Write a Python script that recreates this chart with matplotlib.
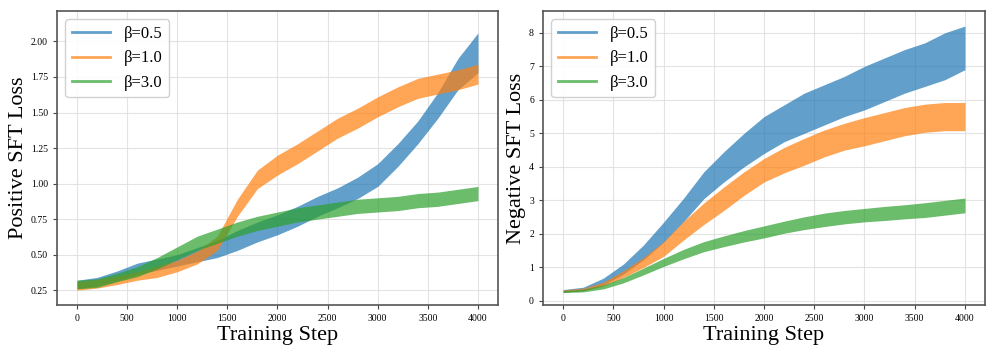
import numpy as np
import matplotlib
matplotlib.use('Agg')
import matplotlib.pyplot as plt
from matplotlib.lines import Line2D

plt.rcParams['font.family'] = ['Liberation Serif', 'DejaVu Serif']

steps = [0, 200, 400, 600, 800, 1000, 1200, 1400, 1600, 1800, 2000,
         2200, 2400, 2600, 2800, 3000, 3200, 3400, 3600, 3800, 4000]
labels = ['β=0.5', 'β=1.0', 'β=3.0']
colors = ['#1f77b4', '#ff7f0e', '#2ca02c']

# Positive SFT loss: band centre and half-width (noise spread)
pos_b05 = [0.29, 0.31, 0.35, 0.40, 0.43, 0.46, 0.50, 0.54, 0.60, 0.66, 0.71,
           0.77, 0.84, 0.90, 0.97, 1.06, 1.20, 1.36, 1.55, 1.77, 1.92]
pos_b05_hw = [0.03, 0.03, 0.035, 0.04, 0.04, 0.04, 0.05, 0.06, 0.07, 0.07, 0.07,
              0.07, 0.07, 0.07, 0.075, 0.08, 0.08, 0.08, 0.09, 0.11, 0.14]
pos_b10 = [0.28, 0.295, 0.32, 0.35, 0.38, 0.42, 0.48, 0.58, 0.83, 1.03, 1.13,
           1.21, 1.30, 1.39, 1.46, 1.54, 1.61, 1.67, 1.70, 1.73, 1.77]
pos_b10_hw = [0.03, 0.03, 0.03, 0.03, 0.04, 0.04, 0.045, 0.05, 0.06, 0.065, 0.07,
              0.07, 0.07, 0.07, 0.07, 0.07, 0.07, 0.07, 0.07, 0.07, 0.07]
pos_b30 = [0.29, 0.30, 0.34, 0.38, 0.44, 0.51, 0.58, 0.63, 0.68, 0.72, 0.75,
           0.78, 0.80, 0.82, 0.84, 0.85, 0.86, 0.88, 0.89, 0.91, 0.93]
pos_b30_hw = [0.03, 0.03, 0.03, 0.035, 0.04, 0.045, 0.05, 0.05, 0.05, 0.05, 0.05,
              0.05, 0.05, 0.05, 0.05, 0.05, 0.05, 0.05, 0.05, 0.05, 0.05]

# Negative SFT loss
neg_b05 = [0.30, 0.36, 0.58, 0.95, 1.45, 2.05, 2.72, 3.45, 4.00, 4.50, 4.95,
           5.30, 5.60, 5.85, 6.10, 6.35, 6.60, 6.85, 7.05, 7.30, 7.55]
neg_b05_hw = [0.04, 0.05, 0.10, 0.15, 0.22, 0.30, 0.35, 0.40, 0.45, 0.50, 0.55,
              0.55, 0.60, 0.60, 0.60, 0.65, 0.65, 0.65, 0.65, 0.70, 0.65]
neg_b10 = [0.30, 0.34, 0.50, 0.80, 1.15, 1.55, 2.10, 2.60, 3.05, 3.50, 3.90,
           4.20, 4.45, 4.70, 4.90, 5.05, 5.20, 5.35, 5.45, 5.50, 5.50]
neg_b10_hw = [0.03, 0.04, 0.06, 0.10, 0.15, 0.22, 0.28, 0.32, 0.35, 0.35, 0.35,
              0.38, 0.40, 0.40, 0.40, 0.42, 0.42, 0.42, 0.42, 0.42, 0.42]
neg_b30 = [0.28, 0.31, 0.42, 0.62, 0.88, 1.15, 1.40, 1.62, 1.78, 1.93, 2.06,
           2.20, 2.32, 2.42, 2.50, 2.56, 2.61, 2.66, 2.71, 2.78, 2.85]
neg_b30_hw = [0.03, 0.04, 0.06, 0.08, 0.10, 0.12, 0.14, 0.15, 0.16, 0.17, 0.18,
              0.18, 0.19, 0.20, 0.20, 0.20, 0.21, 0.21, 0.22, 0.22, 0.22]

fig = plt.figure(figsize=(9.96, 3.56), dpi=100)
ax1 = fig.add_axes([0.0572, 0.1433, 0.4428, 0.8258])
ax2 = fig.add_axes([0.5452, 0.1433, 0.4438, 0.8258])

panels = [
    (ax1, [(pos_b05, pos_b05_hw), (pos_b10, pos_b10_hw), (pos_b30, pos_b30_hw)], 'Positive SFT Loss'),
    (ax2, [(neg_b05, neg_b05_hw), (neg_b10, neg_b10_hw), (neg_b30, neg_b30_hw)], 'Negative SFT Loss'),
]

x = np.array(steps)
for ax, series, ylab in panels:
    for (c, hw), col in zip(series, colors):
        c = np.array(c)
        hw = np.array(hw)
        ax.fill_between(x, c - hw, c + hw, color=col, alpha=0.7, lw=0)
    ax.set_xlabel('Training Step', fontsize=16, labelpad=2)
    ax.set_ylabel(ylab, fontsize=16, labelpad=2)
    ax.tick_params(labelsize=7, length=3, color='#444444')
    ax.grid(True, color='#dddddd', linewidth=0.8, alpha=0.8)
    ax.set_axisbelow(True)
    for sp in ax.spines.values():
        sp.set_color('#555555')
        sp.set_linewidth(1.2)
    handles = [Line2D([0], [0], color=col, alpha=0.7, lw=2) for col in colors]
    ax.legend(handles, labels, loc='upper left', fontsize=12, framealpha=0.9,
              edgecolor='#cccccc', handlelength=2.3)

ax1.set_xlim(-200, 4200)
ax1.set_ylim(0.146, 2.214)
ax1.set_xticks([0, 500, 1000, 1500, 2000, 2500, 3000, 3500, 4000])
ax1.set_yticks([0.25, 0.50, 0.75, 1.00, 1.25, 1.50, 1.75, 2.00])
ax1.set_yticklabels(['0.25', '0.50', '0.75', '1.00', '1.25', '1.50', '1.75', '2.00'])

ax2.set_xlim(-200, 4200)
ax2.set_ylim(-0.12, 8.65)
ax2.set_xticks([0, 500, 1000, 1500, 2000, 2500, 3000, 3500, 4000])
ax2.set_yticks([0, 1, 2, 3, 4, 5, 6, 7, 8])

plt.savefig('out.png', dpi=100)
